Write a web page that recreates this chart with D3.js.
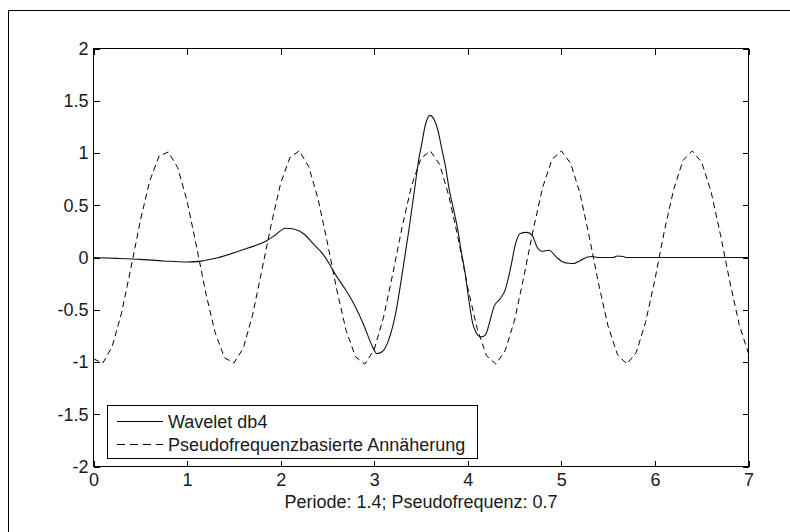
<!DOCTYPE html>
<html>
<head>
<meta charset="utf-8">
<script src="https://cdn.jsdelivr.net/npm/d3@7"></script>
<style>
  html, body { margin: 0; padding: 0; background: #fff; }
  svg { display: block; }
  text { font-family: "Liberation Sans", Arial, sans-serif; fill: #1a1a1a; }
</style>
</head>
<body>
<svg id="chart" width="790" height="532"></svg>
<script>
// Tick values for both axes
const xTicks = [0, 1, 2, 3, 4, 5, 6, 7];
const yTicks = [-2, -1.5, -1, -0.5, 0, 0.5, 1, 1.5, 2];
const yTickLabels = ["-2", "-1.5", "-1", "-0.5", "0", "0.5", "1", "1.5", "2"];

// Wavelet db4 (solid line)
const waveletX = [0, 0.25, 0.5, 0.75, 1.0, 1.15, 1.3, 1.45, 1.65, 1.85, 1.95, 2.05, 2.15, 2.25,
  2.35, 2.45, 2.52, 2.57, 2.68, 2.78, 2.89, 2.98, 3.03, 3.08, 3.15, 3.23, 3.30, 3.37, 3.44,
  3.48, 3.50, 3.55, 3.595, 3.64, 3.68, 3.72, 3.76, 3.80, 3.85, 3.89, 3.93, 3.97, 4.01, 4.05,
  4.09, 4.14, 4.19, 4.23, 4.28, 4.35, 4.40, 4.46, 4.51, 4.56, 4.63, 4.69, 4.74, 4.79, 4.87,
  4.94, 5.01, 5.08, 5.13, 5.20, 5.28, 5.33, 5.40, 5.55, 5.60, 5.66, 5.70, 7.0];
const waveletY = [0, -0.008, -0.018, -0.033, -0.043, -0.035, -0.008, 0.03, 0.09, 0.16, 0.22, 0.28, 0.27, 0.225,
  0.13, 0.035, -0.06, -0.14, -0.29, -0.44, -0.65, -0.85, -0.92, -0.905, -0.80, -0.53, -0.15, 0.26, 0.71,
  0.96, 1.05, 1.28, 1.36, 1.32, 1.22, 1.05, 0.88, 0.66, 0.45, 0.28, 0.06, -0.14, -0.40, -0.62,
  -0.72, -0.76, -0.74, -0.63, -0.47, -0.39, -0.31, -0.09, 0.13, 0.23, 0.24, 0.21, 0.10, 0.06, 0.07,
  0.01, -0.04, -0.055, -0.058, -0.03, 0.005, 0.01, 0.0, 0.0, 0.015, 0.01, 0.0, 0.0];

// Pseudofrequency approximation (dashed line), sampled every 0.1 from 0 to 7
const approxStep = 0.1;
const approxY = [
  -0.97, -1.01, -0.85, -0.53, -0.10, 0.35, 0.73, 0.97, 1.01, 0.86,
  0.54, 0.11, -0.34, -0.72, -0.96, -1.01, -0.87, -0.55, -0.12, 0.32,
  0.71, 0.96, 1.02, 0.87, 0.56, 0.14, -0.31, -0.70, -0.95, -1.02,
  -0.88, -0.57, -0.15, 0.30, 0.69, 0.95, 1.02, 0.89, 0.58, 0.17,
  -0.29, -0.68, -0.94, -1.02, -0.89, -0.60, -0.18, 0.27, 0.67, 0.94,
  1.02, 0.90, 0.61, 0.19, -0.26, -0.66, -0.93, -1.02, -0.91, -0.62,
  -0.21, 0.25, 0.65, 0.93, 1.02, 0.91, 0.63, 0.22, -0.23, -0.64,
  -0.92];

const legendLabels = ["Wavelet db4", "Pseudofrequenzbasierte Annäherung"];
const xTitle = "Periode: 1.4; Pseudofrequenz: 0.7";

const svg = d3.select("#chart");
const plotLeft = 93.5, plotRight = 748.5, plotTop = 48.5, plotBottom = 466.5;

const x = d3.scaleLinear().domain([0, 7]).range([plotLeft, plotRight]);
const y = d3.scaleLinear().domain([-2, 2]).range([plotBottom, plotTop]);

// Figure frame
svg.append("rect")
  .attr("x", 8.5).attr("y", 10.5).attr("width", 900).attr("height", 700)
  .attr("fill", "#fff").attr("stroke", "#000").attr("stroke-width", 1);

// Plot area
svg.append("rect")
  .attr("x", plotLeft).attr("y", plotTop)
  .attr("width", plotRight - plotLeft).attr("height", plotBottom - plotTop)
  .attr("fill", "#fff");

svg.append("clipPath").attr("id", "plotclip")
  .append("rect").attr("x", plotLeft).attr("y", plotTop)
  .attr("width", plotRight - plotLeft).attr("height", plotBottom - plotTop);

const tickLen = 6;
function styleAxis(g) {
  g.select(".domain").remove();
  g.selectAll(".tick line").attr("stroke", "#000").attr("shape-rendering", "crispEdges");
  g.selectAll(".tick text").attr("font-size", 18).attr("fill", "#1a1a1a")
    .attr("font-family", "'Liberation Sans', Arial, sans-serif");
}

svg.append("g").attr("transform", `translate(0,${plotBottom})`)
  .call(d3.axisBottom(x).tickValues(xTicks).tickFormat(d3.format("d"))
    .tickSizeInner(-tickLen).tickSizeOuter(0).tickPadding(7))
  .call(styleAxis);

svg.append("g").attr("transform", `translate(0,${plotTop})`)
  .call(d3.axisTop(x).tickValues(xTicks).tickFormat("")
    .tickSizeInner(-tickLen).tickSizeOuter(0))
  .call(styleAxis);

svg.append("g").attr("transform", `translate(${plotLeft},0)`)
  .call(d3.axisLeft(y).tickValues(yTicks).tickFormat((d, i) => yTickLabels[i])
    .tickSizeInner(-tickLen).tickSizeOuter(0).tickPadding(5))
  .call(styleAxis);

svg.append("g").attr("transform", `translate(${plotRight},0)`)
  .call(d3.axisRight(y).tickValues(yTicks).tickFormat("")
    .tickSizeInner(-tickLen).tickSizeOuter(0))
  .call(styleAxis);

// Curves
const plot = svg.append("g").attr("clip-path", "url(#plotclip)");

const approxLine = d3.line()
  .x((d, i) => x(i * approxStep))
  .y(d => y(d));

plot.append("path")
  .datum(approxY)
  .attr("d", approxLine)
  .attr("fill", "none")
  .attr("stroke", "#000")
  .attr("stroke-width", 1)
  .attr("stroke-dasharray", "6,4");

const waveletLine = d3.line()
  .x((d, i) => x(waveletX[i]))
  .y(d => y(d))
  .curve(d3.curveMonotoneX);

plot.append("path")
  .datum(waveletY)
  .attr("d", waveletLine)
  .attr("fill", "none")
  .attr("stroke", "#111")
  .attr("stroke-width", 1.1);

// Axes box
svg.append("rect")
  .attr("x", plotLeft).attr("y", plotTop)
  .attr("width", plotRight - plotLeft).attr("height", plotBottom - plotTop)
  .attr("fill", "none").attr("stroke", "#000").attr("stroke-width", 1)
  .attr("shape-rendering", "crispEdges");

// x-axis title
svg.append("text")
  .attr("x", (plotLeft + plotRight) / 2).attr("y", 508)
  .attr("text-anchor", "middle").attr("font-size", 18)
  .text(xTitle);

// Legend
const legend = svg.append("g");
legend.append("rect")
  .attr("x", 107.5).attr("y", 405.5).attr("width", 370).attr("height", 53)
  .attr("fill", "#fff").attr("stroke", "#000").attr("stroke-width", 1)
  .attr("shape-rendering", "crispEdges");

const rowsY = [421.5, 444.5];
const dashes = [null, "8,5"];
legendLabels.forEach((label, i) => {
  legend.append("line")
    .attr("x1", 117).attr("x2", 163).attr("y1", rowsY[i]).attr("y2", rowsY[i])
    .attr("stroke", "#000").attr("stroke-width", 1)
    .attr("stroke-dasharray", dashes[i]);
  legend.append("text")
    .attr("x", 168).attr("y", rowsY[i]).attr("dy", "0.35em")
    .attr("font-size", 18)
    .text(label);
});
</script>
</body>
</html>
